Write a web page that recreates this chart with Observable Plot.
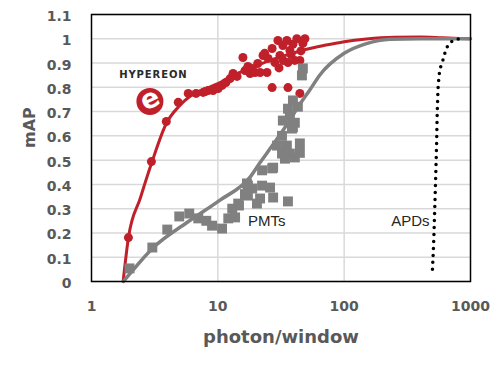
<!DOCTYPE html>
<html><head><meta charset="utf-8">
<script src="https://cdn.jsdelivr.net/npm/d3@7"></script>
<script src="https://cdn.jsdelivr.net/npm/@observablehq/plot@0.6"></script>
<style>
body{margin:0;background:#fff}
#chart svg{display:block}
</style>
</head><body><div id="chart"></div>
<script>
// ---- data ----
const xTicks = [1, 10, 100, 1000];
const yTicks = [0, 0.1, 0.2, 0.3, 0.4, 0.5, 0.6, 0.7, 0.8, 0.9, 1.0, 1.1];
const xGrid = [10, 100];

// Hypereon measurements (red dots)
const hypPhotons = [1.96, 2.98, 3.91, 4.86, 5.83, 6.73, 7.65, 7.95, 8.38, 9.17, 10.06, 10.8, 11.6, 12.5, 13.2, 14.2, 15.8, 16.4, 17.3, 18.0, 18.7, 19.7, 20.7, 21.6, 22.8, 23.5, 24.5, 25.0, 26.9, 28.3, 29.9, 30.5, 31.0, 32.7, 33.0, 35.2, 35.9, 37.2, 38.0, 39.3, 40.7, 42.2, 44.6, 45.5, 47.1, 48.9, 26.9, 35.9, 44.6];
const hypMAP     = [0.181, 0.494, 0.659, 0.738, 0.775, 0.775, 0.779, 0.783, 0.787, 0.787, 0.795, 0.808, 0.82, 0.836, 0.857, 0.845, 0.923, 0.869, 0.886, 0.857, 0.878, 0.861, 0.898, 0.861, 0.931, 0.94, 0.861, 0.919, 0.96, 0.902, 0.993, 0.88, 0.931, 0.972, 0.91, 0.993, 0.902, 0.952, 0.935, 0.977, 0.911, 1.0, 0.911, 0.95, 0.981, 1.0, 0.799, 0.799, 0.775];
// Hypereon fit (red line)
const hypFitPhotons = [1.78, 1.96, 2.44, 3, 3.9, 5, 6, 7.25, 10, 13, 18, 25, 35, 47, 70, 100, 150, 250, 400, 600, 1000];
const hypFitMAP     = [0, 0.18, 0.345, 0.49, 0.65, 0.725, 0.762, 0.785, 0.815, 0.848, 0.878, 0.908, 0.933, 0.953, 0.973, 0.988, 0.999, 1.006, 1.007, 1.004, 1.0];

// PMT measurements (grey squares)
const pmtPhotons = [2.0, 3.03, 3.98, 4.95, 5.94, 7.0, 8.1, 9.0, 10.8, 12.1, 13.7, 13.0, 14.7, 16.4, 17.3, 14.5, 17.0, 18.7, 22.4, 25.9, 17.3, 21.6, 27.4, 20.4, 35.9, 22.4, 26.9, 29.4, 35.2, 44.6, 32.2, 37.2, 44.6, 34.0, 27.4, 40.7, 32.2, 32.7, 39.3, 40.7, 38.6, 43.0, 39.3, 35.9, 37.2, 47.1, 46.3];
const pmtMAP     = [0.054, 0.14, 0.214, 0.268, 0.28, 0.26, 0.25, 0.23, 0.218, 0.26, 0.264, 0.30, 0.313, 0.36, 0.395, 0.321, 0.404, 0.383, 0.395, 0.387, 0.354, 0.342, 0.346, 0.321, 0.33, 0.458, 0.466, 0.56, 0.56, 0.569, 0.527, 0.527, 0.53, 0.506, 0.469, 0.511, 0.60, 0.663, 0.635, 0.654, 0.63, 0.72, 0.746, 0.712, 0.684, 0.878, 0.849];
// PMT fit (grey line)
const pmtFitPhotons = [1.79, 2, 3.09, 5.7, 10.4, 18, 21.6, 27, 35, 44.6, 53.6, 64, 100, 150, 230, 400, 1000];
const pmtFitMAP     = [0, 0.03, 0.14, 0.243, 0.335, 0.43, 0.49, 0.56, 0.645, 0.73, 0.79, 0.85, 0.94, 0.98, 0.998, 1.0, 1.0];

// APD curve (black dotted)
const apdPhotons = [500, 510, 519, 528, 538, 548, 558, 579, 600, 622, 646, 694, 863];
const apdMAP     = [0.05, 0.15, 0.27, 0.40, 0.55, 0.73, 0.82, 0.882, 0.906, 0.935, 0.96, 0.985, 1.005];

// Annotations
const pmtLabel = "PMTs";
const apdLabel = "APDs";
const pmtLabelAt = [17.3, 0.247];
const apdLabelAt = [474, 0.247];
const logoName = "HYPEREON";
const logoNameAt = [3.09, 0.851];
const logoMarkAt = [2.90, 0.742];

const xLabel = "photon/window";
const yLabel = "mAP";

// ---- tables ----
const zip = (xs, ys) => xs.map((x, i) => ({x, y: ys[i]}));
const hyp = zip(hypPhotons, hypMAP);
const hypFit = zip(hypFitPhotons, hypFitMAP);
const pmt = zip(pmtPhotons, pmtMAP);
const pmtFit = zip(pmtFitPhotons, pmtFitMAP);
const apd = zip(apdPhotons, apdMAP);

const RED = "#c0202a";
const GREY = "#808080";
const FONT = "DejaVu Sans";

const chart = Plot.plot({
  width: 504,
  height: 367,
  marginLeft: 91,
  marginRight: 34,
  marginTop: 14,
  marginBottom: 86,
  style: {fontFamily: FONT, color: "#595959", background: "#fff"},
  x: {type: "log", domain: [1, 1000]},
  y: {domain: [0, 1.1]},
  marks: [
    Plot.gridY(yTicks, {stroke: "#d9d9d9", strokeOpacity: 1, strokeWidth: 1.5}),
    Plot.gridX(xGrid, {stroke: "#d9d9d9", strokeOpacity: 1, strokeWidth: 1.5}),
    Plot.axisY(yTicks, {tickSize: 0, tickPadding: 20, fontSize: 14, fontWeight: "bold", fill: "#595959", dy: 2, tickFormat: d => String(+d.toFixed(1)), label: null}),
    Plot.axisX(xTicks, {tickSize: 0, tickPadding: 20, fontSize: 14, fontWeight: "bold", fill: "#595959", tickFormat: d => String(d), label: null}),
    Plot.text([yLabel], {frameAnchor: "left", dx: -62, rotate: -90, fontSize: 16, fontWeight: "bold", fill: "#595959"}),
    Plot.text([xLabel], {frameAnchor: "bottom", dy: 56, lineAnchor: "middle", fontSize: 18, fontWeight: "bold", fill: "#595959"}),
    // logo
    Plot.text([logoName], {x: () => logoNameAt[0], y: () => logoNameAt[1], fontSize: 10, fontWeight: "bold", fill: "#2a2a2a"}),
    Plot.dot([0], {x: () => logoMarkAt[0], y: () => logoMarkAt[1], r: 13.5, fill: RED, stroke: "none"}),
    Plot.text(["e"], {x: () => logoMarkAt[0], y: () => logoMarkAt[1], fontSize: 27, fontWeight: "bold", fill: "#fff", rotate: -25, dy: -2}),
    // Hypereon
    Plot.dot(hyp, {x: "x", y: "y", r: 4.5, fill: RED, stroke: "none"}),
    Plot.line(hypFit, {x: "x", y: "y", stroke: RED, strokeWidth: 3, curve: "monotone-x"}),
    // PMTs
    Plot.dot(pmt, {x: "x", y: "y", symbol: "square", r: 5.6, fill: GREY, stroke: "none"}),
    Plot.line(pmtFit, {x: "x", y: "y", stroke: GREY, strokeWidth: 3.5, curve: "monotone-x"}),
    // APDs
    Plot.line(apd, {x: "x", y: "y", stroke: "#000", strokeWidth: 3.5, strokeDasharray: "0 7", strokeLinecap: "round", curve: "monotone-y"}),
    Plot.text([pmtLabel], {x: () => pmtLabelAt[0], y: () => pmtLabelAt[1], textAnchor: "start", fontSize: 15, fontFamily: "Liberation Sans", fill: "#262626"}),
    Plot.text([apdLabel], {x: () => apdLabelAt[0], y: () => apdLabelAt[1], textAnchor: "end", fontSize: 15, fontFamily: "Liberation Sans", fill: "#262626"}),
    Plot.frame({stroke: "#000", strokeWidth: 1.5})
  ]
});
d3.select(chart).selectAll("text")
  .filter(function() { return this.textContent === logoName; })
  .attr("letter-spacing", "0.9px");
document.getElementById("chart").appendChild(chart);
</script>
</body></html>
